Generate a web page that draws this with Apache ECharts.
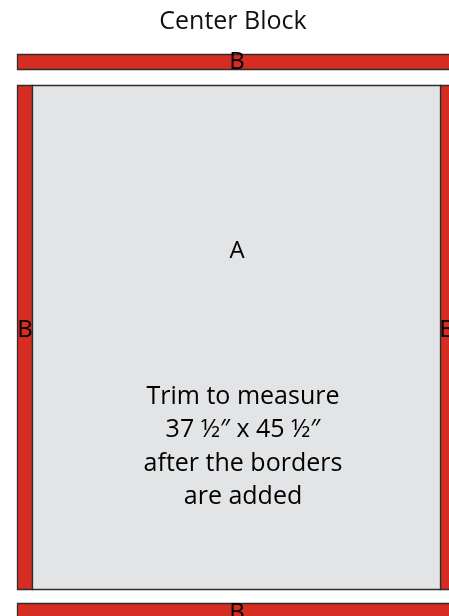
<!DOCTYPE html>
<html><head><meta charset="utf-8">
<script src="https://cdn.jsdelivr.net/npm/echarts@6/dist/echarts.min.js"></script>
<style>html,body{margin:0;padding:0;background:#fff}#c{width:449px;height:616px}</style>
</head><body><div id="c"></div>
<script>
// Pieces of the block (diagram units = layout units on hidden axes)
const pieceNames = ['B', 'B', 'B', 'A', 'B'];
const pieceX0 = [17, 17, 440, 32, 17];
const pieceX1 = [460, 32, 460, 440, 460];
const pieceY0 = [54, 85, 85, 85, 603];
const pieceY1 = [69, 589, 589, 589, 625];
const pieceColors = ['#D62D22', '#D62D22', '#D62D22', '#E3E4E6', '#D62D22'];
// Piece labels
const labelTexts = ['B', 'B', 'B', 'A', 'B'];
const labelX = [237, 25, 447, 237, 237];
const labelY = [62, 330, 330, 251, 613];
// Notes
const titleText = 'Center Block';
const titlePos = [233, 22];
const noteLines = ['Trim to measure', '37 ½″ x 45 ½″', 'after the borders', 'are added'];
const notePos = [243, 380];

const chart = echarts.init(document.getElementById('c'), null, {renderer: 'canvas'});
const font = 'Open Sans';
const pieceData = pieceNames.map((n, i) => [pieceX0[i], pieceY0[i], pieceX1[i], pieceY1[i], i]);
const labelData = labelTexts.map((t, i) => [labelX[i], labelY[i], t]);

chart.setOption({
  animation: false,
  grid: {left: 0, top: 0, right: 0, bottom: 0},
  xAxis: {type: 'value', min: 0, max: 449, show: false},
  yAxis: {type: 'value', min: 0, max: 616, inverse: true, show: false},
  series: [
    {
      type: 'custom',
      data: pieceData,
      renderItem: function (params, api) {
        const p0 = api.coord([api.value(0), api.value(1)]);
        const p1 = api.coord([api.value(2), api.value(3)]);
        const i = api.value(4);
        return {
          type: 'rect',
          shape: {x: p0[0] + 0.5, y: p0[1] + 0.5, width: p1[0] - p0[0], height: p1[1] - p0[1]},
          style: {fill: pieceColors[i], stroke: '#2e2e2e', lineWidth: 1.3}
        };
      }
    },
    {
      type: 'custom',
      data: labelData,
      z: 5,
      renderItem: function (params, api) {
        const p = api.coord([api.value(0), api.value(1)]);
        return {
          type: 'text',
          style: {x: p[0], y: p[1], text: labelTexts[params.dataIndex], fill: '#000', font: '24px "' + font + '"', align: 'center', verticalAlign: 'middle'}
        };
      }
    },
    {
      type: 'custom',
      data: [[titlePos[0], titlePos[1]]],
      z: 5,
      renderItem: function (params, api) {
        const p = api.coord([api.value(0), api.value(1)]);
        return {
          type: 'text',
          style: {x: p[0], y: p[1], text: titleText, fill: '#111', font: '25px "' + font + '"', align: 'center', verticalAlign: 'middle'}
        };
      }
    },
    {
      type: 'custom',
      data: [[notePos[0], notePos[1]]],
      z: 5,
      renderItem: function (params, api) {
        const p = api.coord([api.value(0), api.value(1)]);
        return {
          type: 'text',
          style: {x: p[0], y: p[1], text: noteLines.join('\n'), fill: '#000', font: '25px "' + font + '"', lineHeight: 33.5, align: 'center', verticalAlign: 'top'}
        };
      }
    }
  ]
});
</script></body></html>
